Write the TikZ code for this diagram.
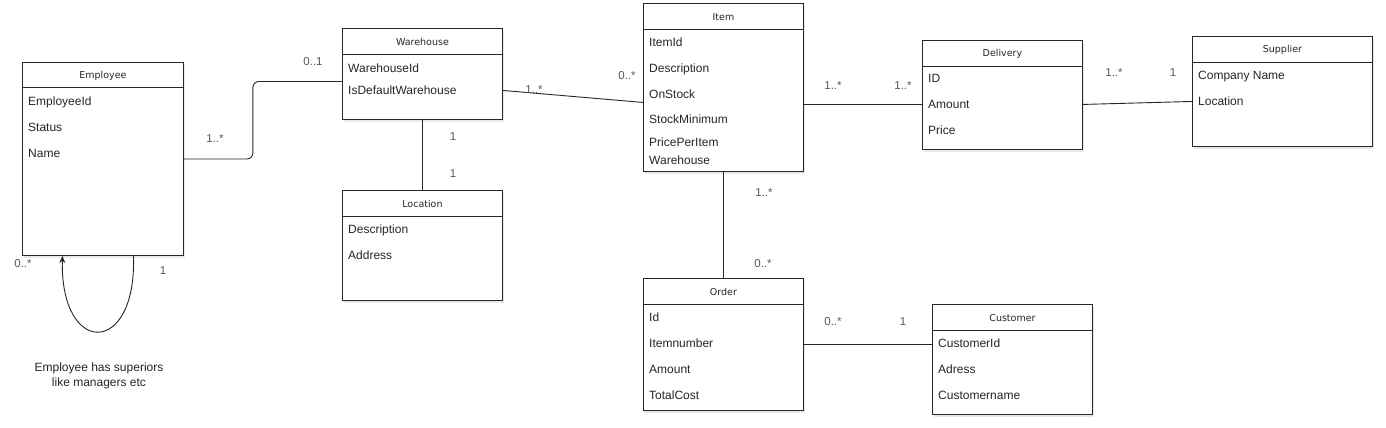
\documentclass[tikz,border=0pt]{standalone}
\usepackage{fontspec}
\setmainfont{Liberation Sans}
\newfontfamily\titlefont{DejaVu Sans}
\usetikzlibrary{shadows,arrows.meta,calc}
\newcommand{\umlbox}[7]{%
  \node[cls, minimum width=#4pt, minimum height=#5pt] (#1) at (#2,#3) {};
  \draw[conn] ($(#1.north west)+(0,#6)$) -- ($(#1.north east)+(0,#6)$);
  \node[ttl] (#1-t) at ($(#1.north)+(0,#6/2+1)$) {#7};}
\begin{document}
\begin{tikzpicture}[x=1pt,y=-1pt,
  cls/.style={draw=black!85, line width=0.9pt, fill=white, anchor=north west, inner sep=0pt,
    drop shadow={opacity=0.18,shadow xshift=2pt,shadow yshift=-2.5pt}},
  ttl/.style={font=\titlefont\fontsize{9.5}{11}\selectfont, text=black!85, inner sep=0pt},
  attr/.style={font=\fontsize{12}{14}\selectfont, anchor=base west, inner sep=0pt, text=black!85},
  mult/.style={font=\fontsize{11.5}{13}\selectfont, anchor=base, text=black!65, inner sep=0pt},
  conn/.style={draw=black!85, line width=0.9pt}]
\useasboundingbox[fill=white] (0,0) rectangle (1386,428);

% classes
\umlbox{emp}{22}{62}{161}{193}{25}{Employee}
\node[attr] (e1) at (28,105.5) {EmployeeId};
\node[attr] (e2) at (28,131.5) {Status};
\node[attr] (e3) at (28,157.5) {Name};

\umlbox{wh}{342}{28}{160}{91}{26}{Warehouse}
\node[attr] (w1) at (348,72.5) {WarehouseId};
\node[attr] (w2) at (348,94.5) {IsDefaultWarehouse};

\umlbox{loc}{342}{190}{160}{110}{26}{Location}
\node[attr] (l1) at (348,233.5) {Description};
\node[attr] (l2) at (348,259.5) {Address};

\umlbox{item}{643}{3}{160}{168}{26}{Item}
\node[attr] (i1) at (649,46.5) {ItemId};
\node[attr] (i2) at (649,72.5) {Description};
\node[attr] (i3) at (649,98.5) {OnStock};
\node[attr] (i4) at (649,123.5) {StockMinimum};
\node[attr] (i5) at (649,146) {PricePerItem};
\node[attr] (i6) at (649,164) {Warehouse};

\umlbox{del}{922}{40}{160}{109}{26}{Delivery}
\node[attr] (d1) at (928,82.5) {ID};
\node[attr] (d2) at (928,108.5) {Amount};
\node[attr] (d3) at (928,134.5) {Price};

\umlbox{sup}{1192}{36}{180}{110}{26}{Supplier}
\node[attr] (s1) at (1198,79.5) {Company Name};
\node[attr] (s2) at (1198,105.5) {Location};

\umlbox{ord}{643}{278}{160}{132}{26}{Order}
\node[attr] (o1) at (649,321.5) {Id};
\node[attr] (o2) at (649,347.5) {Itemnumber};
\node[attr] (o3) at (649,373.5) {Amount};
\node[attr] (o4) at (649,399.5) {TotalCost};

\umlbox{cus}{932}{304}{160}{110}{26}{Customer}
\node[attr] (c1) at (938,347.5) {CustomerId};
\node[attr] (c2) at (938,373.5) {Adress};
\node[attr] (c3) at (938,399.5) {Customername};

% connectors
\draw[conn, rounded corners=6pt] (emp.east) -- ++(69,0) |- ([yshift=-7.5pt]wh.west);
\draw[conn] (wh.south) -- (loc.north);
\draw[conn] ([yshift=-16.5pt]wh.east) -- ([yshift=-15pt]item.west);
\draw[conn] ([yshift=-17pt]item.east) -- ([yshift=-9.5pt]del.west);
\draw[conn] ([yshift=-9.5pt]del.east) -- ([yshift=-10pt]sup.west);
\draw[conn] (item.south) -- (ord.north);
\draw[conn] (ord.east) -- (ord.east -| cus.west);
\draw[conn, -{Stealth[length=7pt,width=6pt]}] ([xshift=30.5pt]emp.south)
  .. controls ([xshift=34pt,yshift=-101pt]emp.south) and ([xshift=-43pt,yshift=-101pt]emp.south) .. ([xshift=-40.5pt]emp.south);

% multiplicities
\node[mult] (m1) at (215,142) {1..*};
\node[mult] (m2) at (313,66) {0..1};
\node[mult] (m3) at (453,140) {1};
\node[mult] (m4) at (453,177) {1};
\node[mult] (m5) at (23,267) {0..*};
\node[mult] (m6) at (163,274) {1};
\node[mult] (m7) at (534,93) {1..*};
\node[mult] (m8) at (627,80) {0..*};
\node[mult] (m9) at (833,89) {1..*};
\node[mult] (m10) at (903,89) {1..*};
\node[mult] (m11) at (1114,76) {1..*};
\node[mult] (m12) at (1173,76) {1};
\node[mult] (m13) at (764,196) {1..*};
\node[mult] (m14) at (763,267) {0..*};
\node[mult] (m15) at (833,325) {0..*};
\node[mult] (m16) at (903,325) {1};

\node[font=\fontsize{12}{15}\selectfont, align=center, text=black!85, inner sep=0pt] (note) at (99,376) {Employee has superiors\\like managers etc};
\end{tikzpicture}
\end{document}
